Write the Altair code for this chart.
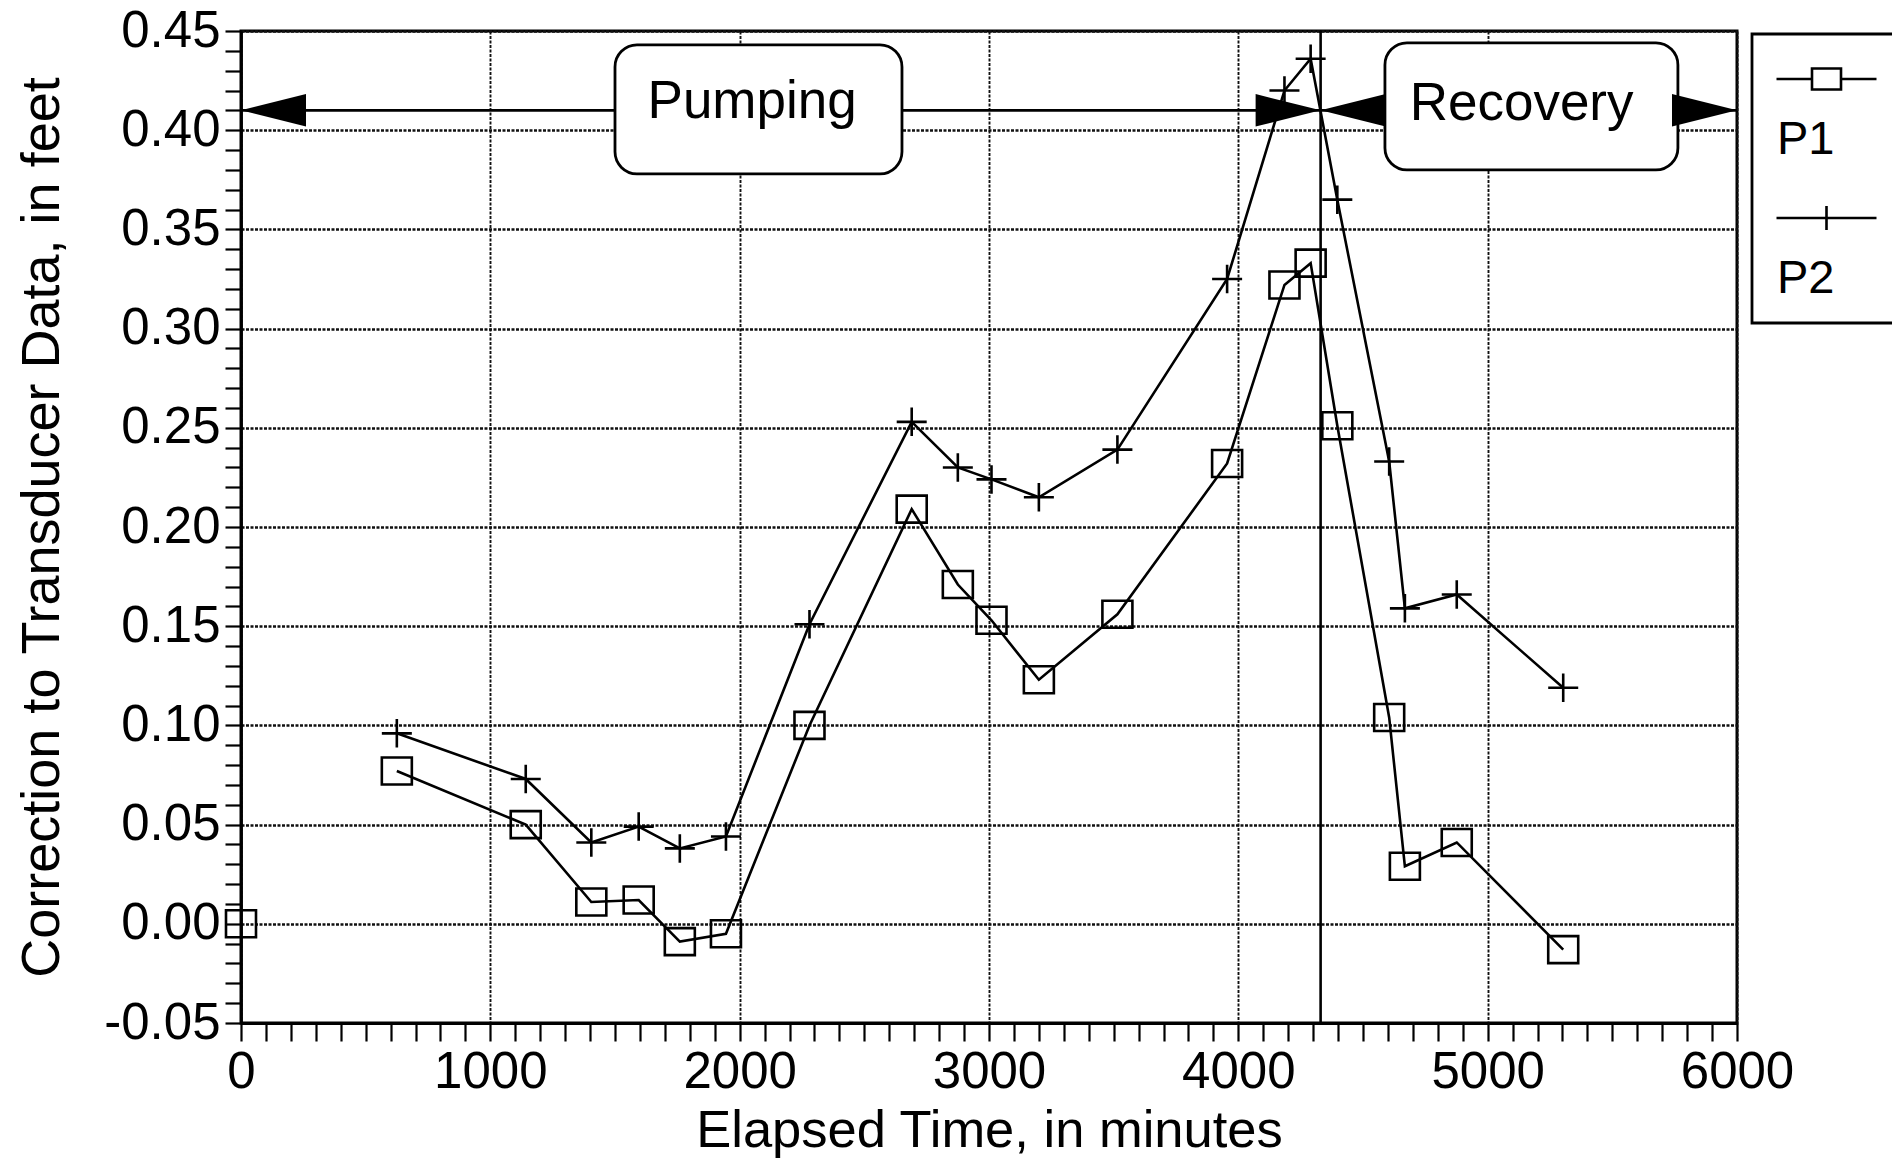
import altair as alt
import pandas as pd

FONT = "Liberation Sans"

# ---- data ----
p1_time = [0, 625, 1142, 1405, 1595, 1760, 1945, 2280, 2690, 2875, 3010, 3200, 3515, 3955, 4185, 4290, 4397, 4605, 4668, 4876, 5303]
p1_corr = [0.000, 0.077, 0.050, 0.011, 0.012, -0.009, -0.005, 0.100, 0.209, 0.171, 0.153, 0.123, 0.156, 0.232, 0.322, 0.333, 0.251, 0.104, 0.029, 0.041, -0.013]
p1_seg = ["P1a"] + ["P1b"] * 20

p2_time = [625, 1142, 1405, 1595, 1760, 1945, 2280, 2690, 2875, 3010, 3200, 3515, 3955, 4185, 4290, 4397, 4605, 4668, 4876, 5303]
p2_corr = [0.096, 0.073, 0.041, 0.049, 0.038, 0.044, 0.151, 0.253, 0.230, 0.224, 0.215, 0.239, 0.325, 0.420, 0.436, 0.365, 0.233, 0.159, 0.166, 0.119]
p2_seg = ["P2"] * 20

series_names = ["P1", "P2"]

# annotations
pump_end = [4330]
arrow_y = 0.41
shaft_x1 = [0, 4330]
shaft_x2 = [4330, 6000]
head_left_x = [0, 4330]
head_right_x = [4330, 6000]
box_labels = ["Pumping", "Recovery"]
box_x1 = [1500, 4588]
box_x2 = [2651, 5763]
box_y1 = [0.378, 0.380]
box_y2 = [0.443, 0.444]
label_x = [2050, 5136]
label_y = [0.4061, 0.4051]

x_ticks = list(range(0, 6001, 100))
y_ticks = [i / 100 for i in range(-5, 46)]

df = pd.DataFrame({
    "time": p1_time + p2_time,
    "corr": p1_corr + p2_corr,
    "series": ["P1"] * len(p1_time) + ["P2"] * len(p2_time),
    "seg": p1_seg + p2_seg,
})

XS = alt.Scale(domain=[0, 6000], nice=False, zero=False)
YS = alt.Scale(domain=[-0.05, 0.45], nice=False, zero=False)

major_y = "abs(datum.value*20 - round(datum.value*20)) < 0.001"
major_x = "datum.value % 1000 === 0"

x_axis = alt.Axis(
    values=x_ticks,
    labelExpr=f"{major_x} ? format(datum.value, 'd') : ''",
    grid=True,
    gridColor="#111111",
    gridDash=[3, 1.5],
    gridWidth=1.9,
    gridOpacity={"condition": {"test": major_x, "value": 1}, "value": 0},
    tickSize=18, tickWidth=2.2, tickColor="black",
    domainColor="black", domainWidth=2.8,
    labelFont=FONT, labelFontSize=51, labelColor="black",
    labelPadding=6, labelFlush=False, labelOverlap=False,
    title="Elapsed Time, in minutes",
    titleFont=FONT, titleFontSize=52.5, titleFontWeight="normal", titleColor="black",
    titlePadding=8,
)
y_axis = alt.Axis(
    values=y_ticks,
    labelExpr=f"{major_y} ? replace(format(datum.value, '.2f'), '\u2212', '-') : ''",
    grid=True,
    gridColor="#111111",
    gridDash=[3, 1.5],
    gridWidth=2.4,
    gridOpacity={"condition": {"test": major_y, "value": 1}, "value": 0},
    tickSize=16, tickWidth=2.2, tickColor="black",
    domainColor="black", domainWidth=2.8,
    labelFont=FONT, labelFontSize=51, labelColor="black",
    labelPadding=5, labelFlush=False, labelOverlap=False,
    title="Correction to Transducer Data, in feet",
    titleFont=FONT, titleFontSize=54, titleFontWeight="normal", titleColor="black",
    titlePadding=34,
)


def X(field):
    return alt.X(field, scale=XS, axis=x_axis)


def Y(field):
    return alt.Y(field, scale=YS, axis=y_axis)


# marker shapes
SQUARE = "M-1,-0.9H1V0.9H-1Z"
PLUS = "M-1,0H1M0,-0.95V0.95"
LEG_P1 = "M-1,-3.025H0.775M2.225,-3.025H4M0.775,-3.55H2.225V-2.5H0.775Z"
LEG_P2 = "M-1,-3.025H4M1.5,-3.625V-2.425"
HEAD_LEFT = "M0,0L2,-0.5L2,0.5Z"
HEAD_RIGHT = "M0,0L-2,-0.5L-2,0.5Z"

LW = 2.6

lines = alt.Chart(df).mark_line(color="black", strokeWidth=LW).encode(
    x=X("time:Q"), y=Y("corr:Q"), detail="seg:N", order="time:Q",
)

markers = alt.Chart(df).mark_point(filled=False, opacity=1, color="black", strokeWidth=LW, size=900).encode(
    x=X("time:Q"), y=Y("corr:Q"),
    shape=alt.Shape("series:N", scale=alt.Scale(domain=series_names, range=[SQUARE, PLUS]), legend=None),
)

legend_layer = alt.Chart(df).mark_point(filled=False, opacity=0, color="black", strokeWidth=LW).encode(
    x=X("time:Q"), y=Y("corr:Q"),
    shape=alt.Shape(
        "series:N",
        scale=alt.Scale(domain=series_names, range=[LEG_P1, LEG_P2]),
        legend=alt.Legend(
            title="\u00a0", titleFontSize=32, titlePadding=29,
            orient="none", legendX=1511, legendY=3,
            symbolSize=1600, symbolStrokeWidth=LW, symbolStrokeColor="black",
            symbolFillColor="white", symbolOpacity=1,
            labelFont=FONT, labelFontSize=47, labelColor="black",
            labelExpr="datum.label + '\u00a0\u00a0\u00a0\u00a0\u00a0\u00a0'",
            labelOffset={"expr": "-43"}, labelBaseline="middle",
            padding=21, rowPadding=37,
            strokeColor="black", fillColor="white",
        ),
    ),
)

vline = alt.Chart(pd.DataFrame({"t": pump_end})).mark_rule(color="black", strokeWidth=LW).encode(
    x=X("t:Q"),
)

shafts = alt.Chart(pd.DataFrame({"x1": shaft_x1, "x2": shaft_x2, "y": [arrow_y] * 2})).mark_rule(
    color="black", strokeWidth=LW
).encode(x=X("x1:Q"), x2="x2:Q", y=Y("y:Q"))

boxes = alt.Chart(pd.DataFrame({"x1": box_x1, "x2": box_x2, "y1": box_y1, "y2": box_y2})).mark_rect(
    fill="white", stroke="black", strokeWidth=2.8, cornerRadius=22
).encode(x=X("x1:Q"), x2="x2:Q", y=Y("y1:Q"), y2="y2:Q")

box_text = alt.Chart(pd.DataFrame({"x": label_x, "y": label_y, "label": box_labels})).mark_text(
    font=FONT, fontSize=53, color="black", align="center", baseline="alphabetic"
).encode(x=X("x:Q"), y=Y("y:Q"), text="label:N")

heads_left = alt.Chart(pd.DataFrame({"x": head_left_x, "y": [arrow_y] * 2})).mark_point(
    shape=HEAD_LEFT, size=4225, filled=True, color="black", opacity=1, strokeWidth=0
).encode(x=X("x:Q"), y=Y("y:Q"))

heads_right = alt.Chart(pd.DataFrame({"x": head_right_x, "y": [arrow_y] * 2})).mark_point(
    shape=HEAD_RIGHT, size=4225, filled=True, color="black", opacity=1, strokeWidth=0
).encode(x=X("x:Q"), y=Y("y:Q"))

chart = alt.layer(
    lines, vline, shafts, boxes, box_text, heads_left, heads_right, markers, legend_layer
).resolve_scale(shape="independent").properties(
    width=1496, height=992,
    padding={"left": 241, "top": 31, "right": 155, "bottom": 136},
    autosize=alt.AutoSizeParams(type="none"),
    background="white",
).configure_view(
    stroke="black", strokeWidth=3
).configure_legend(
    strokeWidth=2.8
)

chart.save("out.html", embed_options={"renderer": "svg", "actions": False})
